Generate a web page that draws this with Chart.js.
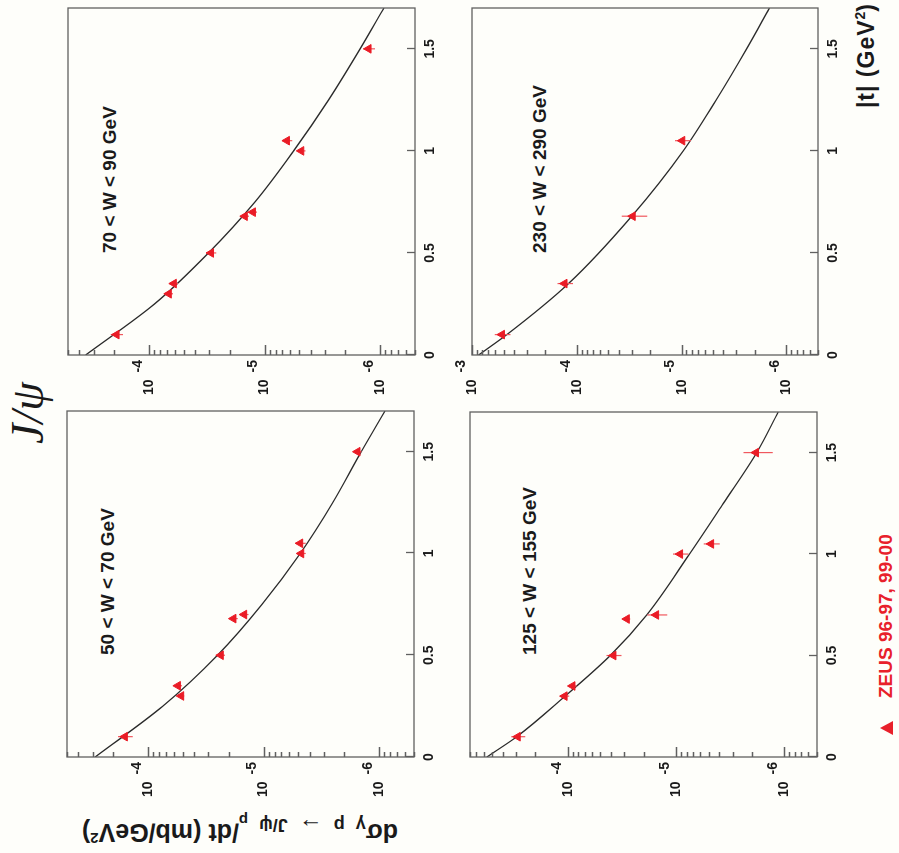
<!DOCTYPE html>
<html>
<head>
<meta charset="utf-8">
<script src="https://cdn.jsdelivr.net/npm/chart.js@4/dist/chart.umd.min.js"></script>
<style>
html,body{margin:0;padding:0;width:899px;height:853px;overflow:hidden;background:#fefefa;}
#fig{position:absolute;left:0;top:0;width:853px;height:899px;transform-origin:0 0;
     transform:translateY(853px) rotate(-90deg);font-family:"Liberation Sans",Arial,sans-serif;color:#1a1a1a;}
#fig canvas{position:absolute;}
.lab{position:absolute;font-weight:bold;font-size:19px;white-space:nowrap;line-height:1;}
#ytitle{position:absolute;left:24px;top:240px;transform:translate(-50%,-50%) rotate(-90deg);
        font-weight:bold;font-size:25px;white-space:nowrap;line-height:1;}
#ytitle sub.s1{font-size:18px;word-spacing:6px;vertical-align:-5px;}
#ytitle sub.s1 .arr{font-size:24px;}
#ytitle sub.s2{font-size:15px;vertical-align:-4px;}
#ytitle sup{font-size:15px;vertical-align:9px;}
#xtitle{position:absolute;right:3px;top:853px;font-weight:bold;font-size:23px;letter-spacing:1px;white-space:nowrap;line-height:1;}
#xtitle sup{font-size:14px;vertical-align:9px;letter-spacing:0;}
#jpsi{position:absolute;left:440px;top:5px;transform:translateX(-50%);font-family:"Liberation Serif","DejaVu Serif",serif;
      font-style:italic;font-size:46px;line-height:1;white-space:nowrap;}
#leg{position:absolute;left:118px;top:876px;color:#e8202a;font-weight:bold;font-size:19px;white-space:nowrap;line-height:1;}
#leg .tri{display:inline-block;width:0;height:0;border-left:7.5px solid transparent;border-right:7.5px solid transparent;
          border-bottom:13px solid #e8202a;margin-right:23px;vertical-align:-1px;}
</style>
</head>
<body>
<div id="fig">
  <div id="jpsi">J/&psi;</div>
  <div class="lab" style="left:198px;top:98px">50 &lt; W &lt; 70 GeV</div>
  <div class="lab" style="left:600px;top:100px">70 &lt; W &lt; 90 GeV</div>
  <div class="lab" style="left:198px;top:520px">125 &lt; W &lt; 155 GeV</div>
  <div class="lab" style="left:600px;top:530px">230 &lt; W &lt; 290 GeV</div>
  <div id="ytitle">d&sigma;<sub class="s1">&gamma; p <span class="arr">&rarr;</span> J/&psi; <sub class="s2">p</sub></sub>/dt (mb/GeV<sup>2</sup>)</div>
  <div id="xtitle">|t| (GeV<sup>2</sup>)</div>
  <div id="leg"><span class="tri"></span>ZEUS 96-97, 99-00</div>
</div>
<script>
// ---------- data ----------
const tTickValues = [0, 0.5, 1, 1.5];

// 50 < W < 70 GeV
const tA    = [0.1, 0.3, 0.35, 0.5, 0.68, 0.7, 1.0, 1.05, 1.5];
const sigA  = [1.58e-4, 5.15e-5, 5.5e-5, 2.34e-5, 1.82e-5, 1.47e-5, 4.72e-6, 4.82e-6, 1.54e-6];
const errA  = [2.3e-5, 3.0e-6, 4.4e-6, 1.9e-6, 1.5e-6, 1.2e-6, 0.4e-6, 0.5e-6, 0.12e-6];
const curveTA = [0, 0.25, 0.5, 0.75, 1.0, 1.25, 1.5, 1.7];
const curveSA = [2.85e-4, 7.42e-5, 2.50e-5, 1.03e-5, 4.82e-6, 2.52e-6, 1.43e-6, 8.91e-7];

// 70 < W < 90 GeV
const tB    = [0.1, 0.3, 0.35, 0.5, 0.68, 0.7, 1.0, 1.05, 1.5];
const sigB  = [1.90e-4, 6.72e-5, 6.08e-5, 2.90e-5, 1.48e-5, 1.26e-5, 4.81e-6, 6.40e-6, 1.26e-6];
const errB  = [2.3e-5, 5.4e-6, 4.9e-6, 2.9e-6, 1.2e-6, 1.0e-6, 0.38e-6, 0.64e-6, 0.15e-6];
const curveTB = [0, 0.25, 0.5, 0.75, 1.0, 1.25, 1.5, 1.7];
const curveSB = [3.52e-4, 8.93e-5, 3.05e-5, 1.21e-5, 5.60e-6, 2.79e-6, 1.49e-6, 9.29e-7];

// 125 < W < 155 GeV
const tC    = [0.1, 0.3, 0.35, 0.5, 0.68, 0.7, 1.0, 1.05, 1.5];
const sigC  = [2.90e-4, 1.07e-4, 9.06e-5, 3.79e-5, 2.85e-5, 1.53e-5, 9.19e-6, 4.75e-6, 1.83e-6];
const errC  = [4.3e-5, 1.0e-5, 8.0e-6, 6.0e-6, 2.0e-6, 3.2e-6, 1.5e-6, 0.8e-6, 0.55e-6];
const curveTC = [0, 0.1, 0.3, 0.5, 0.7, 1.0, 1.25, 1.5, 1.7];
const curveSC = [5.60e-4, 2.96e-4, 1.06e-4, 4.06e-5, 1.87e-5, 7.53e-6, 3.66e-6, 1.80e-6, 1.14e-6];

// 230 < W < 290 GeV
const tD    = [0.1, 0.35, 0.68, 1.05];
const sigD  = [5.18e-4, 1.31e-4, 2.93e-5, 9.86e-6];
const errD  = [8.8e-5, 2.2e-5, 8.0e-6, 1.7e-6];
const curveTD = [0, 0.1, 0.35, 0.68, 1.0, 1.25, 1.5, 1.7];
const curveSD = [8.65e-4, 4.65e-4, 1.20e-4, 2.99e-5, 9.64e-6, 4.68e-6, 2.40e-6, 1.45e-6];

// axis ranges
const yRangeA = [5e-7, 5e-4];
const yRangeB = [5e-7, 5e-4];
const yRangeC = [5e-7, 8e-4];
const yRangeD = [5e-7, 1e-3];
const tRange  = [0, 1.7];

// ---------- drawing ----------
Chart.defaults.font.family = '"Liberation Sans", Arial, sans-serif';
const RED = '#ea1c26';
const Y_W = 90, X_H = 45, PAD_T = 25, PAD_R = 8;

const frameTicks = {
  id: 'frameTicks',
  afterDraw(chart) {
    const {ctx, chartArea: a, scales} = chart;
    const xs = scales.x, ys = scales.y;
    ctx.save();
    ctx.strokeStyle = '#606060';
    ctx.lineWidth = 1.3;
    ctx.beginPath();
    const lo = Math.floor(Math.log10(ys.min) - 1e-9), hi = Math.ceil(Math.log10(ys.max) + 1e-9);
    for (let e = lo; e <= hi; e++) {
      for (let k = 1; k <= 9; k++) {
        const v = k * Math.pow(10, e);
        if (v < ys.min * 0.9999 || v > ys.max * 1.0001) continue;
        const py = Math.round(ys.getPixelForValue(v)) + 0.5;
        const len = k === 1 ? 10 : 5;
        ctx.moveTo(a.left, py); ctx.lineTo(a.left + len, py);
      }
    }
    tTickValues.forEach(v => {
      const px = Math.round(xs.getPixelForValue(v)) + 0.5;
      ctx.moveTo(px, a.bottom); ctx.lineTo(px, a.bottom - 8);
    });
    ctx.stroke();
    ctx.strokeRect(a.left, a.top, a.right - a.left, a.bottom - a.top);
    ctx.restore();
  }
};

function makePanel(rect, yRange, t, s, e, ct, cs) {
  const [l, tp, r, b] = rect;
  const cv = document.createElement('canvas');
  const w = (r - l) + Y_W + PAD_R, h = (b - tp) + PAD_T + X_H;
  cv.width = w; cv.height = h;
  cv.style.left = (l - Y_W) + 'px'; cv.style.top = (tp - PAD_T) + 'px';
  cv.style.width = w + 'px'; cv.style.height = h + 'px';
  document.getElementById('fig').appendChild(cv);

  const pts = t.map((x, i) => ({x, y: s[i]}));
  const bars = [];
  t.forEach((x, i) => { bars.push({x, y: s[i] - e[i]}, {x, y: s[i] + e[i]}, {x, y: null}); });
  const curve = ct.map((x, i) => ({x, y: cs[i]}));

  new Chart(cv, {
    type: 'scatter',
    data: {
      datasets: [
        {label: 'ZEUS 96-97, 99-00', data: pts, pointStyle: 'triangle', pointRadius: 5,
         backgroundColor: RED, borderColor: RED, borderWidth: 1, showLine: false},
        {label: 'errors', data: bars, showLine: true, spanGaps: false, pointRadius: 0,
         borderColor: '#f0585e', borderWidth: 1.2},
        {label: 'fit', data: curve, showLine: true, pointRadius: 0, borderColor: '#2a2a2a',
         borderWidth: 1.3, cubicInterpolationMode: 'monotone'}
      ]
    },
    options: {
      responsive: false, animation: false, devicePixelRatio: 1,
      layout: {padding: {top: PAD_T, right: PAD_R, left: 0, bottom: 0}, autoPadding: false},
      plugins: {legend: {display: false}, tooltip: {enabled: false}},
      scales: {
        x: {
          type: 'linear', position: 'bottom', min: tRange[0], max: tRange[1],
          grid: {display: false, drawTicks: false}, border: {display: false},
          afterBuildTicks: sc => { sc.ticks = tTickValues.map(v => ({value: v})); },
          ticks: {autoSkip: false, maxRotation: 0, minRotation: 0, padding: 7, color: '#1a1a1a',
                  font: {size: 14, weight: 'bold'}, callback: v => String(v)},
          afterFit: sc => { sc.height = X_H; sc.paddingLeft = 0; sc.paddingRight = 0; }
        },
        y: {
          type: 'logarithmic', position: 'left', min: yRange[0], max: yRange[1],
          grid: {display: false, drawTicks: false}, border: {display: false},
          afterBuildTicks: sc => {
            const out = [];
            for (let k = Math.ceil(Math.log10(sc.min) - 1e-9); k <= Math.floor(Math.log10(sc.max) + 1e-9); k++) out.push({value: Math.pow(10, k)});
            sc.ticks = out;
          },
          ticks: {
            autoSkip: false, padding: 5, color: '#1a1a1a', labelOffset: -5.5,
            font: {size: 14, weight: 'bold', lineHeight: 0.79},
            callback: v => { const k = Math.round(Math.log10(v)); return [String(k), '10     ']; }
          },
          afterFit: sc => { sc.width = Y_W; sc.paddingTop = 0; sc.paddingBottom = 0; }
        }
      }
    },
    plugins: [frameTicks]
  });
}

makePanel([96, 67, 442, 414],  yRangeA, tA, sigA, errA, curveTA, curveSA);
makePanel([498, 68, 845, 415], yRangeB, tB, sigB, errB, curveTB, curveSB);
makePanel([96, 470, 441, 817], yRangeC, tC, sigC, errC, curveTC, curveSC);
makePanel([498, 472, 845, 818], yRangeD, tD, sigD, errD, curveTD, curveSD);
</script>
</body>
</html>
